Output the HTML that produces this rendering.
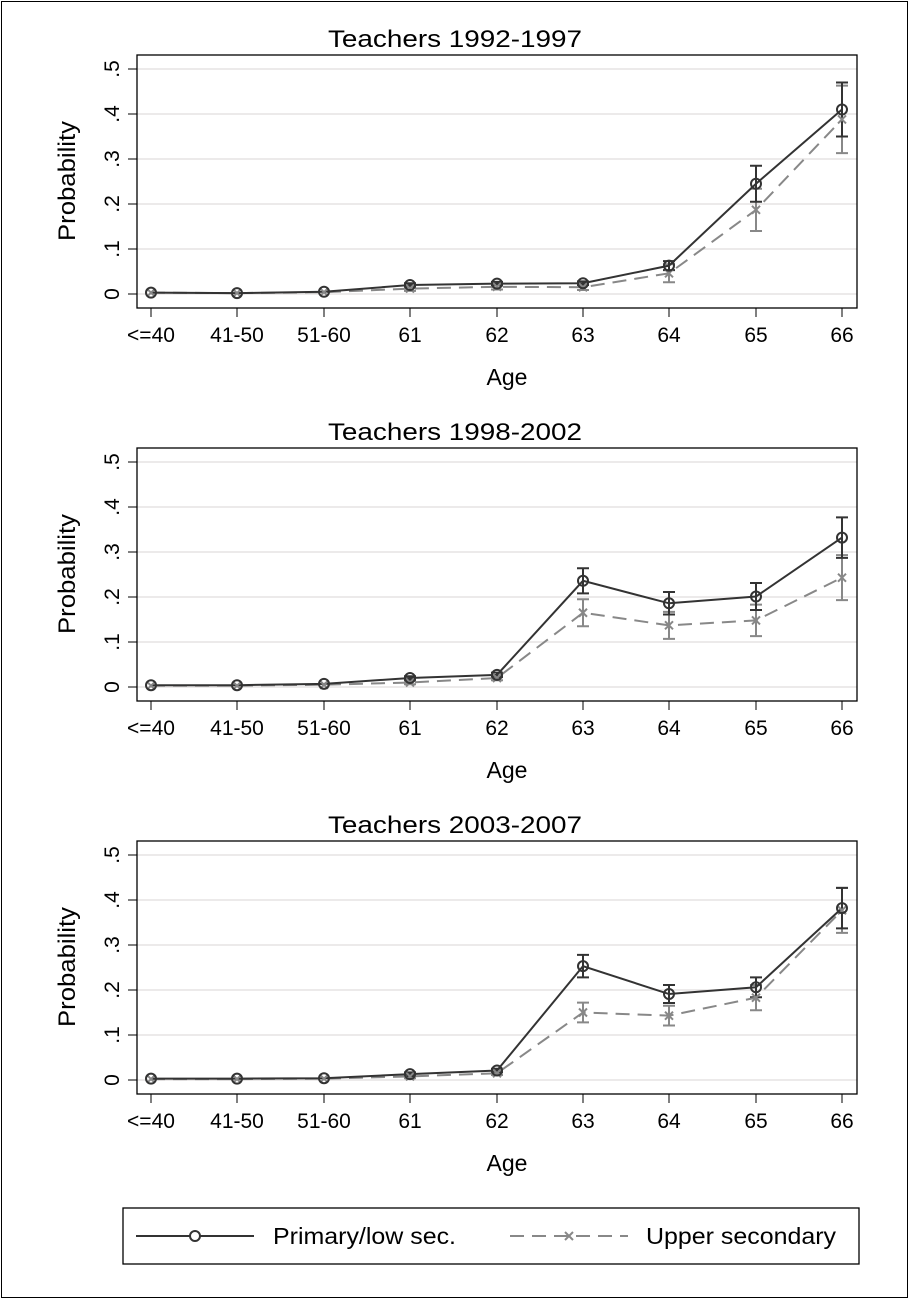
<!DOCTYPE html>
<html><head><meta charset="utf-8"><style>
html,body{margin:0;padding:0;background:#fff}
svg{display:block}
text{font-family:"Liberation Sans",Arial,sans-serif;fill:#000}
</style></head><body>
<svg id="s" width="909" height="1299" viewBox="0 0 909 1299" xmlns="http://www.w3.org/2000/svg">
<rect x="1.5" y="1.5" width="906" height="1296" fill="#fff" stroke="#000" stroke-width="1"/>
</svg>
<script>
const s=document.getElementById('s');let h='';
const xs=[151,237,324,410,497,583,669,756,842];
const labs=['<=40','41-50','51-60','61','62','63','64','65','66'];
const P=[
{t:'Teachers 1992-1997',
a:[.003,.002,.005,.02,.023,.024,.063,.245,.41],ae:[0,0,0,.004,.004,.004,.01,.04,.06],
b:[.003,.002,.004,.012,.016,.015,.046,.187,.388],be:[0,0,0,.005,.006,.006,.02,.047,.075]},
{t:'Teachers 1998-2002',
a:[.004,.004,.007,.02,.027,.236,.186,.201,.332],ae:[0,0,0,.004,.005,.028,.025,.03,.045],
b:[.003,.003,.005,.01,.02,.165,.137,.148,.243],be:[0,0,0,.004,.005,.03,.03,.035,.05]},
{t:'Teachers 2003-2007',
a:[.003,.003,.004,.013,.021,.253,.191,.206,.382],ae:[0,0,0,.004,.004,.025,.02,.022,.045],
b:[.002,.002,.003,.008,.015,.15,.143,.183,.377],be:[0,0,0,.004,.004,.022,.022,.028,.05]}];
P.forEach((p,k)=>{
 const o=k*393, y0=294+o, Y=v=>y0-v*450;
 h+=`<text x="455" y="${47+o}" font-size="24" text-anchor="middle" textLength="254" lengthAdjust="spacingAndGlyphs">${p.t}</text>`;
 for(let i=0;i<=5;i++){const y=Y(i/10);
  h+=`<line x1="137" x2="857" y1="${y}" y2="${y}" stroke="#e6e3e3" stroke-width="1.5"/>`;
  h+=`<line x1="128" x2="137" y1="${y}" y2="${y}" stroke="#000"/>`;
  h+=`<text transform="translate(119,${y}) rotate(-90)" font-size="21" text-anchor="middle">${i==0?'0':'.'+i}</text>`;}
 h+=`<rect x="137" y="${55+o}" width="720" height="253" fill="none" stroke="#000" stroke-width="1.3"/>`;
 xs.forEach((x,i)=>{h+=`<line x1="${x}" x2="${x}" y1="${308+o}" y2="${317+o}" stroke="#000"/>`;
  h+=`<text x="${x}" y="${342+o}" font-size="21" text-anchor="middle">${labs[i].replace('<','&lt;')}</text>`;});
 h+=`<text x="507" y="${385+o}" font-size="23" text-anchor="middle">Age</text>`;
 h+=`<text transform="translate(75,${181+o}) rotate(-90)" font-size="24" text-anchor="middle" textLength="120" lengthAdjust="spacingAndGlyphs">Probability</text>`;
 const err=(v,e,c)=>{xs.forEach((x,i)=>{if(!e[i])return;const a=Y(v[i]+e[i]),b=Y(v[i]-e[i]);
  h+=`<path d="M${x} ${a}V${b}M${x-6} ${a}h12M${x-6} ${b}h12" stroke="${c}" stroke-width="2" fill="none"/>`;});};
 err(p.b,p.be,'#888');err(p.a,p.ae,'#333');
 h+=`<polyline points="${xs.map((x,i)=>x+','+Y(p.b[i])).join(' ')}" fill="none" stroke="#888" stroke-width="2" stroke-dasharray="14,8"/>`;
 h+=`<polyline points="${xs.map((x,i)=>x+','+Y(p.a[i])).join(' ')}" fill="none" stroke="#333" stroke-width="2"/>`;
 xs.forEach((x,i)=>{const y=Y(p.b[i]);h+=`<path d="M${x-4} ${y-4}l8 8M${x+4} ${y-4}l-8 8" stroke="#888" stroke-width="2"/>`;
  h+=`<circle cx="${x}" cy="${Y(p.a[i])}" r="5" fill="none" stroke="#333" stroke-width="2"/>`;});
});
h+=`<rect x="123" y="1208" width="736" height="56" fill="#fff" stroke="#000" stroke-width="1.3"/>`;
h+=`<line x1="136" x2="254" y1="1236" y2="1236" stroke="#333" stroke-width="2"/><circle cx="195" cy="1236" r="5" fill="#fff" stroke="#333" stroke-width="2"/>`;
h+=`<text x="273" y="1244" font-size="23" textLength="183" lengthAdjust="spacingAndGlyphs">Primary/low sec.</text>`;
h+=`<line x1="510" x2="628" y1="1236" y2="1236" stroke="#888" stroke-width="2" stroke-dasharray="14,8"/><path d="M565 1232l8 8M573 1232l-8 8" stroke="#888" stroke-width="2"/>`;
h+=`<text x="646" y="1244" font-size="23" textLength="190" lengthAdjust="spacingAndGlyphs">Upper secondary</text>`;
s.insertAdjacentHTML('beforeend',h);
</script>
</body></html>
